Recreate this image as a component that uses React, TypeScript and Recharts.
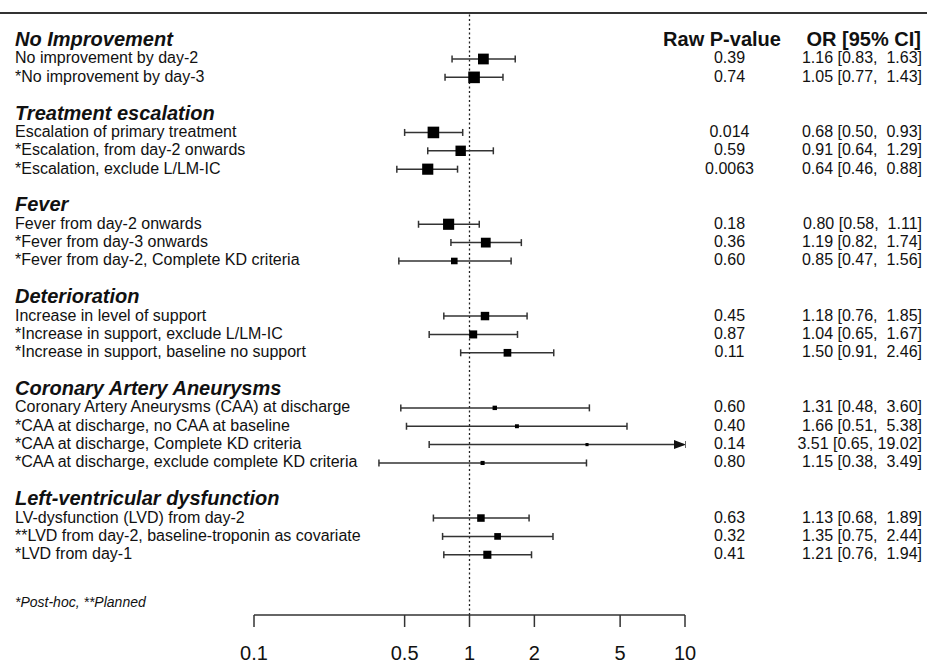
import { ScatterChart, Scatter, XAxis, YAxis, ErrorBar, ReferenceLine } from 'recharts'

const groups = ['No Improvement', 'Treatment escalation', 'Fever', 'Deterioration', 'Coronary Artery Aneurysms', 'Left-ventricular dysfunction']
const groupSizes = [2, 3, 3, 3, 4, 3]
const outcomes = [
  'No improvement by day-2',
  '*No improvement by day-3',
  'Escalation of primary treatment',
  '*Escalation, from day-2 onwards',
  '*Escalation, exclude L/LM-IC',
  'Fever from day-2 onwards',
  '*Fever from day-3 onwards',
  '*Fever from day-2, Complete KD criteria',
  'Increase in level of support',
  '*Increase in support, exclude L/LM-IC',
  '*Increase in support, baseline no support',
  'Coronary Artery Aneurysms (CAA) at discharge',
  '*CAA at discharge, no CAA at baseline',
  '*CAA at discharge, Complete KD criteria',
  '*CAA at discharge, exclude complete KD criteria',
  'LV-dysfunction (LVD) from day-2',
  '**LVD from day-2, baseline-troponin as covariate',
  '*LVD from day-1',
]
const oddsRatio = [1.16, 1.05, 0.68, 0.91, 0.64, 0.80, 1.19, 0.85, 1.18, 1.04, 1.50, 1.31, 1.66, 3.51, 1.15, 1.13, 1.35, 1.21]
const ciLow = [0.83, 0.77, 0.50, 0.64, 0.46, 0.58, 0.82, 0.47, 0.76, 0.65, 0.91, 0.48, 0.51, 0.65, 0.38, 0.68, 0.75, 0.76]
const ciHigh = [1.63, 1.43, 0.93, 1.29, 0.88, 1.11, 1.74, 1.56, 1.85, 1.67, 2.46, 3.60, 5.38, 19.02, 3.49, 1.89, 2.44, 1.94]
const pValues = ['0.39', '0.74', '0.014', '0.59', '0.0063', '0.18', '0.36', '0.60', '0.45', '0.87', '0.11', '0.60', '0.40', '0.14', '0.80', '0.63', '0.32', '0.41']
const xTicks = [0.1, 0.5, 1, 2, 5, 10]

const X_MIN = 0.1
const X_MAX = 10
const FONT = '"Liberation Sans", Arial, Helvetica, sans-serif'

type Row = { idx: number; kind: 'group' | 'item'; label: string; i?: number }

// one row per group header + outcome, with a blank row between groups
const rows: Row[] = []
{
  let idx = 0
  let k = 0
  groups.forEach((g, gi) => {
    rows.push({ idx: idx++, kind: 'group', label: g })
    for (let j = 0; j < groupSizes[gi]; j++) {
      rows.push({ idx: idx++, kind: 'item', label: outcomes[k], i: k })
      k++
    }
    idx++
  })
}
const itemRows = rows.filter(r => r.kind === 'item')

const points = itemRows.map(r => {
  const i = r.i as number
  const or = oddsRatio[i]
  const info = 1 / Math.log(ciHigh[i] / ciLow[i])
  return {
    x: or,
    y: r.idx,
    // CI beyond the axis is cut at the axis end, an arrow is drawn there
    err: [or - ciLow[i], Math.min(ciHigh[i], X_MAX) - or],
    // box side grows with precision (inverse CI width on log scale)
    side: 1.2 + 6.45 * info,
  }
})
const overflow = itemRows
  .filter(r => ciHigh[r.i as number] > X_MAX)
  .map(r => ({ x: X_MAX, y: r.idx }))

const fmtCI = (i: number) =>
  `${oddsRatio[i].toFixed(2)} [${ciLow[i].toFixed(2)}, ${ciHigh[i].toFixed(2).padStart(5, ' ')}]`

function RowTick(props: any) {
  const { y, payload } = props
  const row = rows.find(r => r.idx === payload.value)
  if (!row) return null
  if (row.kind === 'group') {
    return (
      <g fontFamily={FONT}>
        <text x={15} y={y + 5.5} fontSize={20} fontWeight="bold" fontStyle="italic" fill="#111">{row.label}</text>
        {row.idx === 0 && (
          <>
            <text x={722} y={y + 5.5} fontSize={20} fontWeight="bold" textAnchor="middle" fill="#111">Raw P-value</text>
            <text x={921} y={y + 5.5} fontSize={20} fontWeight="bold" textAnchor="end" fill="#111">OR [95% CI]</text>
          </>
        )}
      </g>
    )
  }
  const i = row.i as number
  return (
    <g fontFamily={FONT} fontSize={16} fill="#111">
      <text x={15} y={y + 4.5}>{row.label}</text>
      <text x={729.5} y={y + 4.5} textAnchor="middle">{pValues[i]}</text>
      <text x={922} y={y + 4.5} textAnchor="end" xmlSpace="preserve" style={{ whiteSpace: 'pre' }}>{fmtCI(i)}</text>
    </g>
  )
}

function XTick(props: any) {
  const { x, y, payload } = props
  return (
    <text x={x} y={y + 31} textAnchor="middle" fontFamily={FONT} fontSize={20} fill="#111">
      {payload.value}
    </text>
  )
}

function Box(props: any) {
  const { cx, cy, payload } = props
  const s = payload.side
  return <rect x={cx - s / 2} y={cy - s / 2} width={s} height={s} fill="#000" />
}

function Arrow(props: any) {
  const { cx, cy } = props
  return (
    <g>
      <rect x={cx - 1.5} y={cy - 5} width={4} height={10} fill="#fff" />
      <polygon points={`${cx + 1},${cy} ${cx - 11},${cy - 4.5} ${cx - 11},${cy + 4.5}`} fill="#111" />
    </g>
  )
}

export default function App() {
  return (
    <div style={{ position: 'relative', width: 927, height: 664, background: '#fff' }}>
      <style>{'body{margin:0}'}</style>
      <div style={{ position: 'absolute', left: 0, top: 12, width: 927, height: 2, background: '#333' }} />
      <ScatterChart width={927} height={664} margin={{ top: 13, right: 242, bottom: 0, left: 0 }}>
        <XAxis
          dataKey="x"
          type="number"
          scale="log"
          domain={[X_MIN, X_MAX]}
          allowDataOverflow
          ticks={xTicks}
          interval={0}
          height={49}
          tickSize={12}
          axisLine={{ stroke: '#333', strokeWidth: 1.5 }}
          tickLine={{ stroke: '#333', strokeWidth: 1.5 }}
          tick={<XTick />}
        />
        <YAxis
          dataKey="y"
          type="number"
          domain={[-1.505, 31.28]}
          reversed
          allowDataOverflow
          ticks={rows.map(r => r.idx)}
          interval={0}
          width={254}
          axisLine={false}
          tickLine={false}
          tick={<RowTick />}
        />
        <ReferenceLine x={1} stroke="#222" strokeWidth={1.3} strokeDasharray="2 2.5" />
        <Scatter data={points} shape={<Box />} isAnimationActive={false}>
          <ErrorBar dataKey="err" direction="x" width={3.5} stroke="#333" strokeWidth={1.5} />
        </Scatter>
        <Scatter data={overflow} shape={<Arrow />} isAnimationActive={false} />
      </ScatterChart>
      <div style={{ position: 'absolute', left: 15, top: 595, fontFamily: FONT, fontSize: 14, lineHeight: '14px', fontStyle: 'italic', color: '#111' }}>
        *Post-hoc, **Planned
      </div>
    </div>
  )
}
